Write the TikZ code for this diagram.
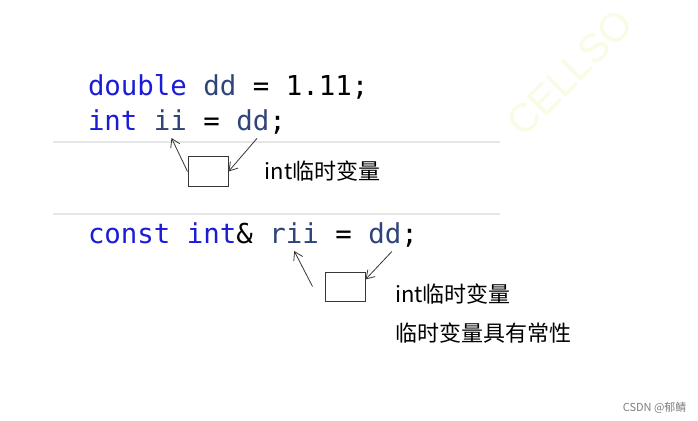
\documentclass[tikz,border=0pt]{standalone}
\usepackage{fontspec}
\setmonofont{DejaVu Sans Mono}
\newfontfamily\cjkfont{Noto Sans CJK SC}
\newfontfamily\wmfont{Liberation Sans}
\usetikzlibrary{positioning, arrows.meta}
\definecolor{kwblue}{RGB}{28, 28, 215}
\definecolor{idblue}{RGB}{47, 68, 120}
\definecolor{sepgray}{RGB}{230, 230, 230}
\definecolor{inkgray}{RGB}{55, 55, 55}
\definecolor{wmyellow}{RGB}{249, 252, 228}
\tikzset{
    code/.style={inner sep=0pt, outer xsep=0pt, outer ysep=8pt, anchor=base west,
        font=\ttfamily\fontsize{27.4}{30}\selectfont},
    keyword/.style={code, text=kwblue},
    ident/.style={code, text=idblue},
    plain/.style={code, text=black},
    tmpbox/.style={draw=inkgray, line width=1pt, minimum width=40pt, minimum height=30pt, inner sep=0pt},
    note/.style={font=\cjkfont\fontsize{22}{26}\selectfont, inner sep=0pt, anchor=west},
    pen/.style={draw=inkgray, line width=0.8pt, -{Straight Barb[length=8pt, width=10pt]}},
    sepline/.style={draw=sepgray, line width=1.6pt}
}
\begin{document}
\begin{tikzpicture}[x=1pt, y=-1pt]
    \fill[white] (0,0) rectangle (698,420);
    \useasboundingbox (0,0) rectangle (698,420);
    \node[font=\wmfont\fontsize{40}{44}\selectfont, text=wmyellow, rotate=45] (wm) at (570,73) {CELLSO};

    % double dd = 1.11;
    \node[keyword] (dkw) at (88,95) {double};
    \node[ident, base right=16.5pt of dkw] (ddA) {dd};
    \node[plain, base right=16.5pt of ddA] (deq) {=};
    \node[plain, base right=16.5pt of deq] (dval) {1.11;};

    % int ii = dd;
    \node[keyword] (ikw) at (88,130) {int};
    \node[ident, base right=16.5pt of ikw] (ii) {ii};
    \node[plain, base right=16.5pt of ii] (ieq) {=};
    \node[ident, base right=16.5pt of ieq] (ddB) {dd};
    \node[plain, base right=0pt of ddB] (isemi) {;};

    \draw[sepline] (53,142) -- (500,142);
    \draw[sepline] (53,214) -- (500,214);

    % const int& rii = dd;
    \node[keyword] (ckw) at (88,243) {const};
    \node[keyword, base right=16.5pt of ckw] (ckw2) {int};
    \node[plain, base right=0pt of ckw2] (amp) {\&};
    \node[ident, base right=16.5pt of amp] (rii) {rii};
    \node[plain, base right=16.5pt of rii] (ceq) {=};
    \node[ident, base right=16.5pt of ceq] (ddC) {dd};
    \node[plain, base right=0pt of ddC] (csemi) {;};

    \node[tmpbox] (boxA) at (208,171.5) {};
    \node[tmpbox, minimum height=29pt] (boxB) at (345,286.5) {};

    \draw[pen] (boxA.west) -- ([xshift=1pt]ii.south);
    \draw[pen] ([xshift=4pt]ddB.south) -- (boxA.east);
    \draw[pen] ([xshift=-12pt]boxB.west) -- (rii.south);
    \draw[pen] ([xshift=7pt]ddC.south) -- ([yshift=7pt]boxB.east);

    \node[note, right=36pt of boxA] (noteA) {int临时变量};
    \node[note] (noteB) at (395,294) {int临时变量};
    \node[note] (noteC) at (395,333) {临时变量具有常性};

    \node[font=\cjkfont\fontsize{11}{13}\selectfont, text=gray, anchor=east] (csdn) at (690,408) {CSDN @郁鲭};
\end{tikzpicture}
\end{document}
